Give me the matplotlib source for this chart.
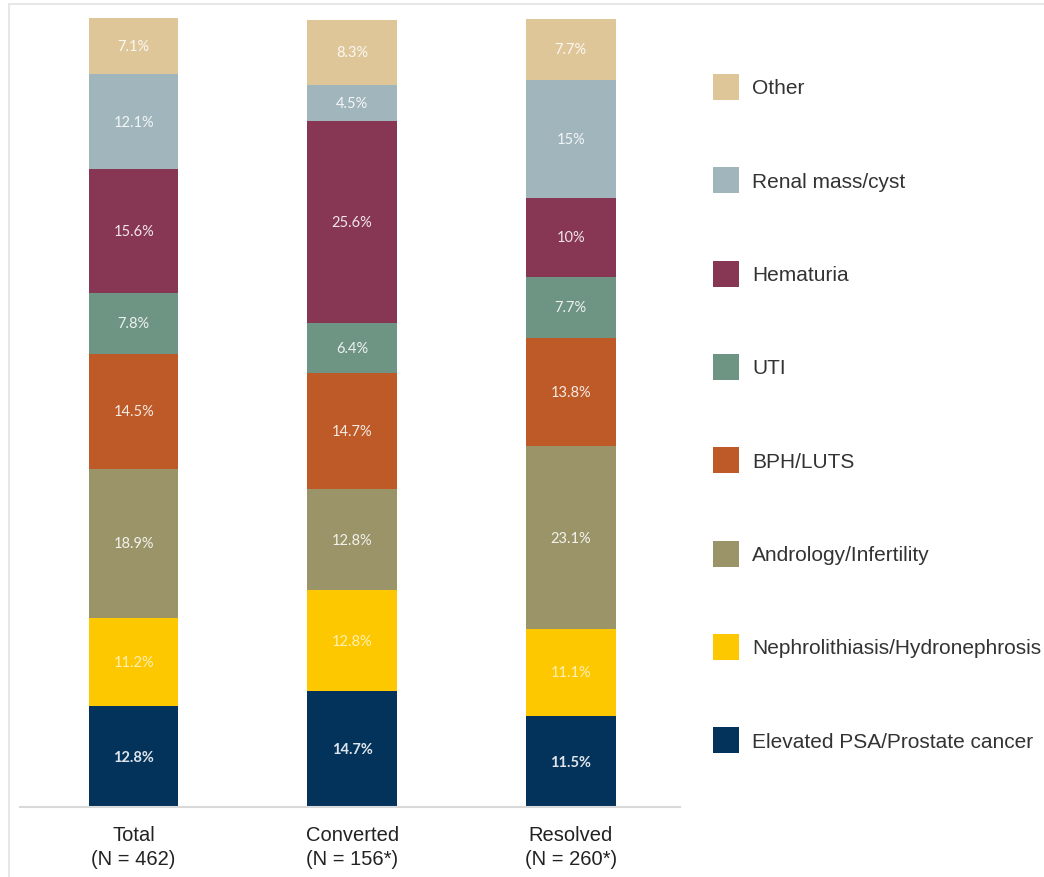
import matplotlib
matplotlib.use('Agg')
import matplotlib.pyplot as plt
from matplotlib.lines import Line2D
from matplotlib.patches import Rectangle
import numpy as np

# 数据 (bottom -> top)
groups = ['Total\n(N = 462)', 'Converted\n(N = 156*)', 'Resolved\n(N = 260*)']
categories = ['Elevated PSA/Prostate cancer', 'Nephrolithiasis/Hydronephrosis',
              'Andrology/Infertility', 'BPH/LUTS', 'UTI', 'Hematuria',
              'Renal mass/cyst', 'Other']
total = [12.8, 11.2, 18.9, 14.5, 7.8, 15.6, 12.1, 7.1]
converted = [14.7, 12.8, 12.8, 14.7, 6.4, 25.6, 4.5, 8.3]
resolved = [11.5, 11.1, 23.1, 13.8, 7.7, 10.0, 15.0, 7.7]
labels_total = ['12.8%', '11.2%', '18.9%', '14.5%', '7.8%', '15.6%', '12.1%', '7.1%']
labels_conv = ['14.7%', '12.8%', '12.8%', '14.7%', '6.4%', '25.6%', '4.5%', '8.3%']
labels_res = ['11.5%', '11.1%', '23.1%', '13.8%', '7.7%', '10%', '15%', '7.7%']

colors = ['#03325A', '#FEC800', '#9A9468', '#BD5A27', '#6E9484', '#873653',
          '#A1B5BC', '#DEC698']

values = np.array([total, converted, resolved])
seg_labels = [labels_total, labels_conv, labels_res]

W, H = 1044, 878
fig = plt.figure(figsize=(W / 100, H / 100), dpi=100)

# 主图
ax = fig.add_axes([20 / W, (H - 808) / H, 660 / W, 789 / H])
x = np.arange(len(groups))
bottoms = np.zeros(len(groups))
for j, cat in enumerate(categories):
    vals = values[:, j]
    ax.bar(x, vals, width=0.41, bottom=bottoms, color=colors[j], edgecolor='none')
    for i in range(len(groups)):
        bold = (j == 0)
        tc = '#FFF6D0' if j == 1 else 'white'
        ax.text(x[i], bottoms[i] + vals[i] / 2, seg_labels[i][j], ha='center', va='center',
                fontsize=10.5, family='Lato', color=tc, alpha=0.88,
                fontweight='bold' if bold else 'normal')
    bottoms += vals

ax.set_xlim(-0.52, 2.5)
ax.set_ylim(0, 100)
ax.set_yticks([])
ax.set_xticks(x)
ax.set_xticklabels(groups, fontsize=14.5, family='Liberation Sans', color='#222222',
                   linespacing=1.3)
ax.tick_params(axis='x', length=0, pad=13)
for s in ['top', 'left', 'right']:
    ax.spines[s].set_visible(False)
ax.spines['bottom'].set_color('#D9D9D9')
ax.spines['bottom'].set_linewidth(1.5)

# 图例 (top -> bottom)
lax = fig.add_axes([0, 0, 1, 1])
lax.set_xlim(0, W)
lax.set_ylim(H, 0)
lax.axis('off')
row_y = 88
for j in range(len(categories) - 1, -1, -1):
    lax.add_patch(Rectangle((713, row_y - 13), 26, 26, color=colors[j], lw=0))
    lax.text(752, row_y + 1, categories[j], ha='left', va='center', fontsize=15,
             family='Liberation Sans', color='#333333')
    row_y += 93.3

# 外框
fig.add_artist(Line2D([9 / W, 1], [1 - 5 / H, 1 - 5 / H], color='#E3E3E3', lw=1.2))
fig.add_artist(Line2D([9 / W, 9 / W], [0, 1 - 5 / H], color='#E3E3E3', lw=1.2))

fig.savefig('out.png', dpi=100)
